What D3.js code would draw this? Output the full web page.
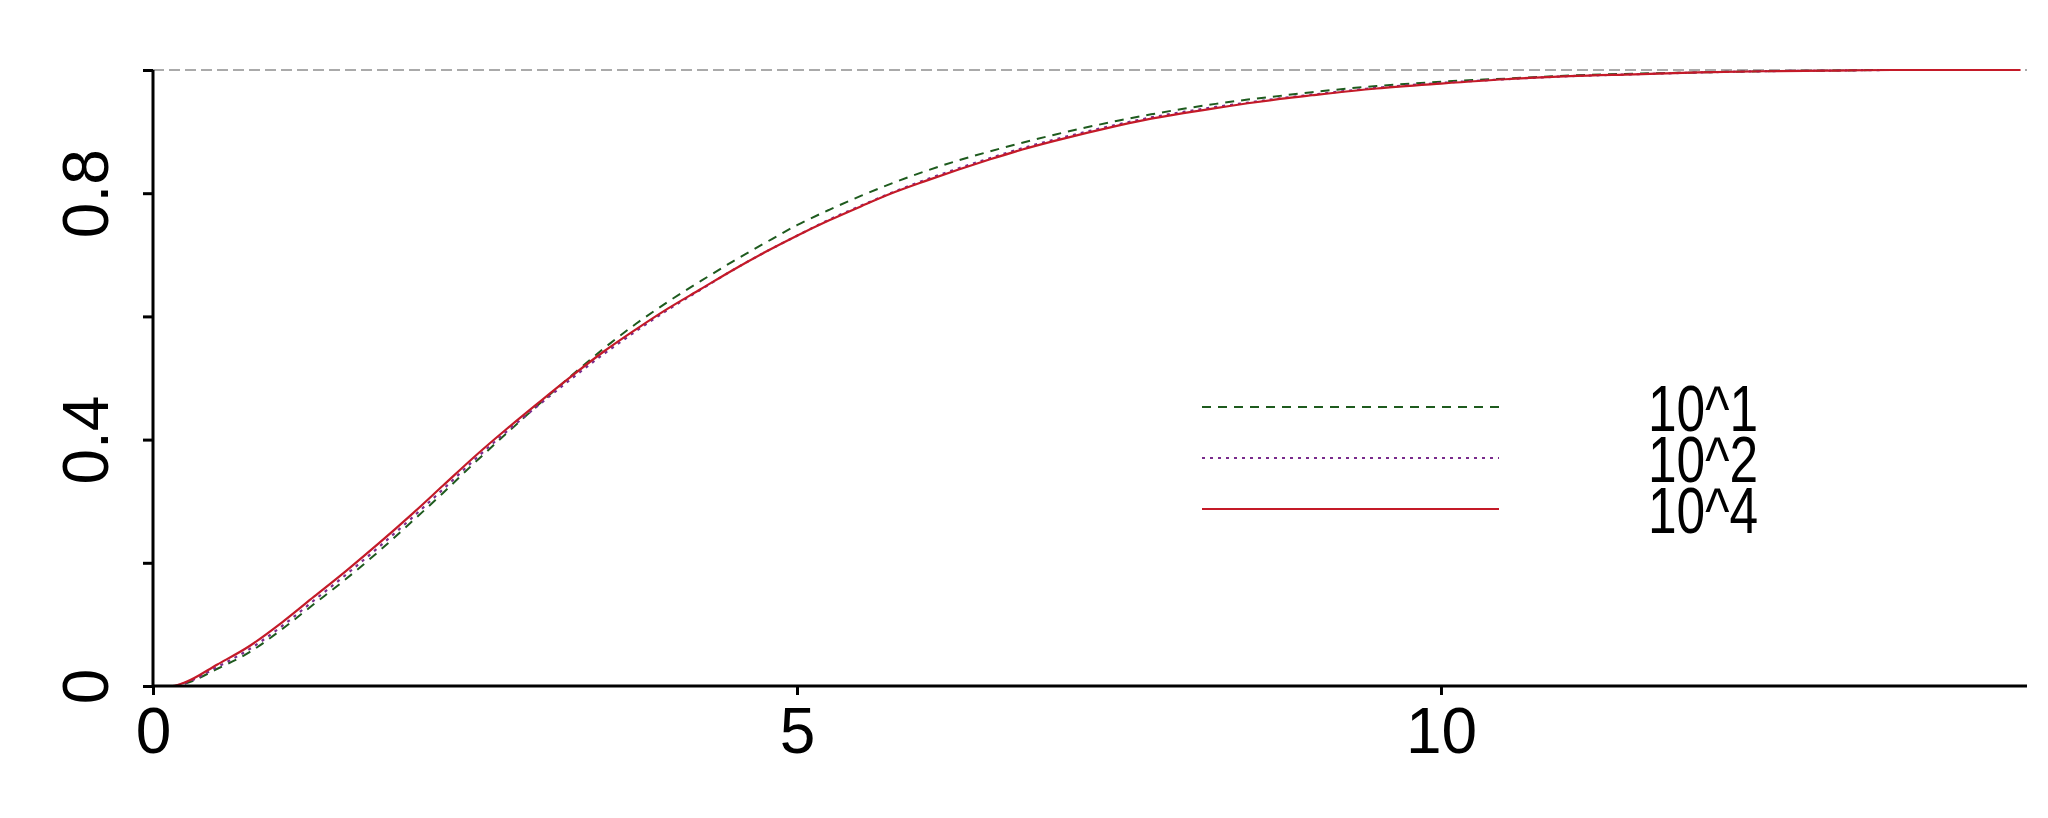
<!DOCTYPE html>
<html>
<head>
<meta charset="utf-8">
<script src="https://cdn.jsdelivr.net/npm/d3@7/dist/d3.min.js"></script>
<style>
	body { margin: 0; background: #fff; }
	text { font-family: "Liberation Sans", Arial, sans-serif; fill: #000; }
</style>
</head>
<body>
<div id="chart"></div>
<script>
var w = 2048,
	h = 818;

// x grid shared by all three curves
var xs = [0, 0.15, 0.25, 0.5, 0.75, 1, 1.25, 1.5, 1.75, 2, 2.25, 2.5, 2.75, 3, 3.25, 3.5, 3.75, 4, 4.25, 4.5, 4.75,
	5, 5.25, 5.5, 5.75, 6, 6.25, 6.5, 6.75, 7, 7.25, 7.5, 7.75, 8, 8.25, 8.5, 8.75, 9, 9.5, 10, 10.5, 11, 11.5,
	12, 12.5, 13, 13.5, 14, 14.5];

var y10_1 = [0, 0, 0.004, 0.028, 0.055, 0.092, 0.133, 0.174, 0.218, 0.265, 0.313, 0.363, 0.411, 0.458, 0.504, 0.548, 0.588, 0.624, 0.657, 0.689, 0.719,
	0.748, 0.773, 0.796, 0.817, 0.836, 0.853, 0.868, 0.882, 0.895, 0.907, 0.918, 0.928, 0.937, 0.945, 0.952, 0.958, 0.964, 0.974, 0.981, 0.986, 0.991, 0.994,
	0.996, 0.998, 0.999, 1, 1, 1];

var y10_2 = [0, 0, 0.005, 0.031, 0.060, 0.097, 0.139, 0.181, 0.225, 0.271, 0.319, 0.368, 0.414, 0.457, 0.499, 0.539, 0.576, 0.611, 0.643, 0.675, 0.704,
	0.731, 0.757, 0.780, 0.802, 0.822, 0.840, 0.857, 0.873, 0.887, 0.900, 0.912, 0.923, 0.932, 0.940, 0.947, 0.954, 0.960, 0.971, 0.979, 0.985, 0.990, 0.993,
	0.996, 0.998, 0.999, 1, 1, 1];

var y10_4 = [0, 0, 0.006, 0.035, 0.065, 0.103, 0.145, 0.187, 0.231, 0.277, 0.325, 0.373, 0.418, 0.461, 0.503, 0.543, 0.579, 0.613, 0.644, 0.675, 0.704,
	0.731, 0.756, 0.779, 0.801, 0.820, 0.838, 0.855, 0.871, 0.885, 0.898, 0.910, 0.921, 0.930, 0.938, 0.946, 0.953, 0.959, 0.970, 0.978, 0.985, 0.990, 0.993,
	0.996, 0.998, 0.999, 1, 1, 1];

var seriesNames = ["10^1", "10^2", "10^4"];
var xTicks = [0, 5, 10];
var yTicks = [0, 0.2, 0.4, 0.6, 0.8, 1];
var yLabels = [0, 0.4, 0.8];

var root = d3.select("#chart").append("svg").attr("width", w).attr("height", h);

var x = d3.scaleLinear().domain([0, 14.55]).range([153, 2027]);
var y = d3.scaleLinear().domain([0, 1]).range([686, 70]);

var styles = [
	{ color: "#1e5b1e", dash: "9,7", width: 2 },
	{ color: "#7a2c8c", dash: "3,5", width: 2.2 },
	{ color: "#c41a28", dash: null, width: 2.2 }
];

// reference line at 1
root.append("line").attr("x1", x(0)).attr("x2", x(14.55)).attr("y1", y(1)).attr("y2", y(1))
	.style("stroke", "#aaa").style("stroke-width", 2).style("stroke-dasharray", "11,5");

var line = d3.line().x(function(d) { return x(d[0]); }).y(function(d) { return y(d[1]); }).curve(d3.curveMonotoneX);

[y10_1, y10_2, y10_4].forEach(function(vals, i) {
	var pts = xs.map(function(v, j) { return [v, vals[j]]; });
	var p = root.append("path").datum(pts).attr("d", line)
		.style("fill", "none").style("stroke", styles[i].color).style("stroke-width", styles[i].width);
	if (styles[i].dash) p.style("stroke-dasharray", styles[i].dash);
});

// axes
var xAxis = root.append("g").attr("transform", "translate(0," + y(0) + ")")
	.call(d3.axisBottom(x).tickValues(xTicks).tickSize(9).tickFormat(d3.format("d")));
xAxis.select(".domain").attr("d", "M" + x(0) + ",0H" + x(14.55)).style("stroke-width", 3);
xAxis.selectAll(".tick line").style("stroke-width", 3);
xAxis.selectAll(".tick text").attr("y", 67).attr("dy", null).style("font-size", "64px");

var yAxis = root.append("g").attr("transform", "translate(" + x(0) + ",0)")
	.call(d3.axisLeft(y).tickValues(yTicks).tickSize(10).tickFormat(function(d) {
		return yLabels.indexOf(d) >= 0 ? d3.format("")(d) : "";
	}));
yAxis.select(".domain").attr("d", "M0," + y(0) + "V" + y(1)).style("stroke-width", 3);
yAxis.selectAll(".tick line").style("stroke-width", 3);
yAxis.selectAll(".tick text").attr("x", null).attr("dy", null)
	.attr("transform", "translate(-45,0) rotate(-90)")
	.attr("text-anchor", "middle").style("font-size", "64px");
yAxis.selectAll("path, line").style("stroke", "#000");
xAxis.selectAll("path, line").style("stroke", "#000");

// legend
var legendY = [407, 458, 509];
seriesNames.forEach(function(name, i) {
	var l = root.append("line").attr("x1", 1202).attr("x2", 1499).attr("y1", legendY[i]).attr("y2", legendY[i])
		.style("stroke", styles[i].color).style("stroke-width", styles[i].width);
	if (styles[i].dash) l.style("stroke-dasharray", styles[i].dash);
	root.append("text").attr("x", 1648).attr("y", legendY[i] + 24)
		.attr("textLength", 110).attr("lengthAdjust", "spacingAndGlyphs")
		.style("font-size", "65px").text(name);
});
</script>
</body>
</html>
